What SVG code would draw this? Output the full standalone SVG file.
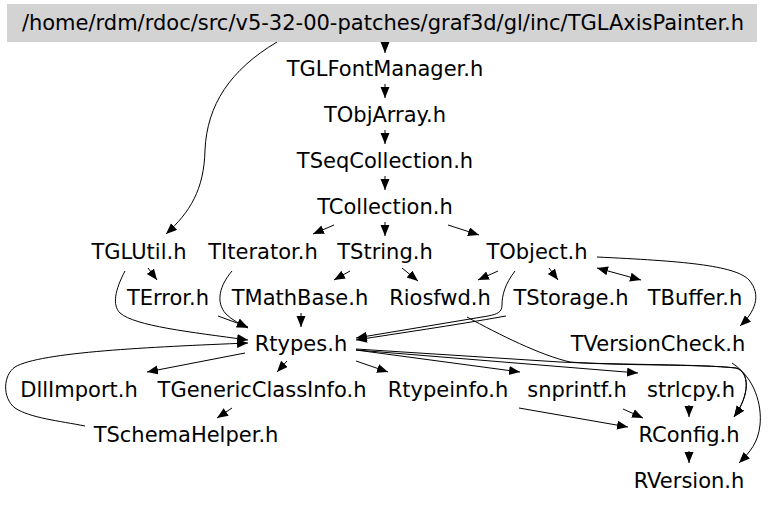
<svg xmlns="http://www.w3.org/2000/svg" width="768" height="505" viewBox="0 0 768 505">
<style>
text{font-family:"DejaVu Sans",Verdana,sans-serif;font-size:21px;fill:#000;text-anchor:middle}
.e path{fill:none;stroke:#000;stroke-width:1;marker-end:url(#ah)}
.e path.both{marker-start:url(#ahs)}
</style>
<defs>
<marker id="ah" markerUnits="userSpaceOnUse" markerWidth="12" markerHeight="10" refX="11" refY="4.5" orient="auto"><path d="M0,0 L11,4.5 L0,9 z" fill="#000"/></marker>
<marker id="ahs" markerUnits="userSpaceOnUse" markerWidth="12" markerHeight="10" refX="11" refY="4.5" orient="auto-start-reverse"><path d="M0,0 L11,4.5 L0,9 z" fill="#000"/></marker>
</defs>
<rect width="768" height="505" fill="#fff"/>
<g class="e" id="edges">
<path d="M385,42 L385,53"/>
<path d="M277,42 C230,70 207,105 205,150 C204,190 190,212 166,234"/>
<path d="M385,84 L385,98"/>
<path d="M385,130 L385,144"/>
<path d="M385,176 L385,190"/>
<path d="M334,225 L313,234"/>
<path d="M385,222 L385,236"/>
<path d="M448,225 L479,235"/>
<path d="M148,268 L157,280"/>
<path d="M125,271 C115,290 112,305 120,313 C135,326 190,332 248,340"/>
<path d="M232,271 C220,285 215,302 226,314 C232,320 240,324 248,328"/>
<path d="M218,316 L248,327"/>
<path d="M301,313 L301,327"/>
<path d="M350,271 L334,280"/>
<path d="M402,268 L418,281"/>
<path d="M498,271 L478,280"/>
<path d="M549,268 L558,280"/>
<path class="both" d="M597,268 L641,280"/>
<path d="M597,257 C680,261 735,265 749,280 C762,295 755,312 740,326"/>
<path d="M515,271 C505,284 502,295 502,305 C502,312 498,314 488,316 L356,338"/>
<path d="M506,316 C450,326 400,333 356,340"/>
<path d="M467,317 C500,335 540,355 570,362 C620,366 700,364 736,368 C750,372 750,395 734,417"/>
<path d="M356,349 L560,362 C620,365 700,364 736,368 C750,372 750,395 734,417"/>
<path d="M245,353 L147,372"/>
<path d="M287,361 L277,372"/>
<path d="M356,361 L388,372"/>
<path d="M356,350 L520,372"/>
<path d="M356,350 L638,373"/>
<path d="M689,405 L689,417"/>
<path d="M623,409 L643,418"/>
<path d="M519,408 L628,427"/>
<path d="M689,451 L689,463"/>
<path d="M732,363 C755,378 762,405 760,425 C758,443 750,452 739,463"/>
<path d="M232,408 L217,418"/>
<path d="M85,426 C60,421 30,418 15,408 C2,398 3,375 15,367 C40,352 150,347 248,343"/>
</g>
<g id="n_header"><rect x="7" y="4" width="750" height="38" fill="#d3d3d3"/><text x="383" y="30">/home/rdm/rdoc/src/v5-32-00-patches/graf3d/gl/inc/TGLAxisPainter.h</text></g>
<g id="n_TGLFontManager"><text x="385" y="76">TGLFontManager.h</text></g>
<g id="n_TObjArray"><text x="385" y="122">TObjArray.h</text></g>
<g id="n_TSeqCollection"><text x="385" y="168">TSeqCollection.h</text></g>
<g id="n_TCollection"><text x="385" y="214">TCollection.h</text></g>
<g id="n_TGLUtil"><text x="139" y="259">TGLUtil.h</text></g>
<g id="n_TIterator"><text x="263" y="259">TIterator.h</text></g>
<g id="n_TString"><text x="385" y="259">TString.h</text></g>
<g id="n_TObject"><text x="537" y="259">TObject.h</text></g>
<g id="n_TError"><text x="168" y="305">TError.h</text></g>
<g id="n_TMathBase"><text x="300" y="305">TMathBase.h</text></g>
<g id="n_Riosfwd"><text x="440" y="305">Riosfwd.h</text></g>
<g id="n_TStorage"><text x="571" y="305">TStorage.h</text></g>
<g id="n_TBuffer"><text x="695" y="305">TBuffer.h</text></g>
<g id="n_Rtypes"><text x="301" y="351">Rtypes.h</text></g>
<g id="n_TVersionCheck"><text x="658" y="351">TVersionCheck.h</text></g>
<g id="n_DllImport"><text x="79" y="397">DllImport.h</text></g>
<g id="n_TGenericClassInfo"><text x="262" y="397">TGenericClassInfo.h</text></g>
<g id="n_Rtypeinfo"><text x="448" y="397">Rtypeinfo.h</text></g>
<g id="n_snprintf"><text x="577" y="397">snprintf.h</text></g>
<g id="n_strlcpy"><text x="691" y="397">strlcpy.h</text></g>
<g id="n_TSchemaHelper"><text x="186" y="442">TSchemaHelper.h</text></g>
<g id="n_RConfig"><text x="689" y="442">RConfig.h</text></g>
<g id="n_RVersion"><text x="689" y="488">RVersion.h</text></g>
</svg>
